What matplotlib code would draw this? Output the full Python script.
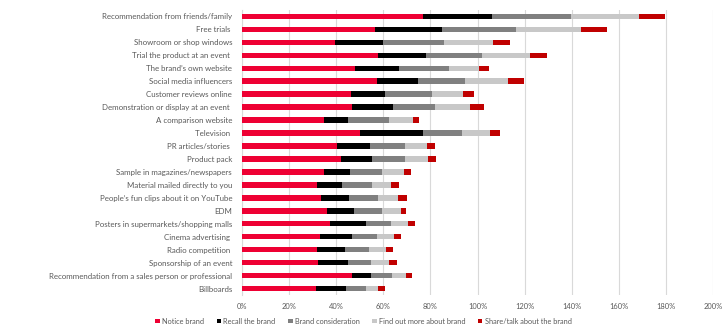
import matplotlib
matplotlib.use("Agg")
import matplotlib.pyplot as plt
from matplotlib.ticker import PercentFormatter
from matplotlib.patches import Patch

categories = [
    "Recommendation from friends/family",
    "Free trials ",
    "Showroom or shop windows",
    "Trial the product at an event ",
    "The brand\u2019s own website",
    "Social media influencers",
    "Customer reviews online",
    "Demonstration or display at an event ",
    "A comparison website",
    "Television ",
    "PR articles/stories ",
    "Product pack",
    "Sample in magazines/newspapers",
    "Material mailed directly to you",
    "People\u2019s fun clips about it on YouTube",
    "EDM",
    "Posters in supermarkets/shopping malls",
    "Cinema advertising ",
    "Radio competition ",
    "Sponsorship of an event",
    "Recommendation from a sales person or professional",
    "Billboards",
]

notice = [77.0, 56.5, 39.7, 57.7, 48.2, 57.5, 46.4, 46.8, 34.8, 50.0, 40.6,
          42.3, 35.1, 31.9, 33.6, 36.2, 37.6, 33.2, 31.9, 32.5, 46.8, 31.4]
recall = [29.3, 28.3, 20.4, 20.3, 18.5, 17.3, 14.3, 17.4, 10.3, 27.0, 13.6,
          13.0, 11.0, 10.5, 11.9, 11.4, 15.0, 13.6, 11.9, 12.7, 8.0, 12.7]
consideration = [33.4, 31.5, 25.6, 23.9, 21.1, 20.0, 20.1, 17.7, 17.4, 16.5, 15.1,
                 14.0, 13.5, 13.0, 12.3, 12.0, 10.6, 10.6, 10.1, 9.6, 8.8, 8.5]
find_out = [28.8, 27.4, 21.0, 20.5, 13.0, 18.2, 13.1, 15.1, 10.2, 11.9, 9.3,
            9.9, 9.2, 8.1, 8.5, 8.0, 7.3, 7.2, 7.3, 7.8, 6.2, 5.2]
share = [11.2, 11.0, 7.2, 6.9, 4.2, 6.8, 4.7, 5.8, 2.4, 4.1, 3.3,
         3.3, 2.8, 3.0, 3.8, 2.2, 3.0, 3.1, 3.1, 3.4, 2.3, 3.0]

series_names = ["Notice brand", "Recall the brand", "Brand consideration",
                "Find out more about brand", "Share/talk about the brand"]
series = [notice, recall, consideration, find_out, share]
colors = ["#EE0033", "#000000", "#808080", "#C8C8C8", "#C00000"]

plt.rcParams['font.family'] = ['Lato', 'DejaVu Sans']
text_color = "#595959"

fig = plt.figure(figsize=(7.27, 3.33), dpi=100)
ax = fig.add_axes([0.3325, 0.1141, 0.6487, 0.856])

y = list(range(len(categories)))
left = [0.0] * len(categories)
for name, vals, c in zip(series_names, series, colors):
    ax.barh(y, vals, left=left, height=0.42, color=c, label=name, zorder=3)
    left = [l + v for l, v in zip(left, vals)]

ax.set_yticks(y)
ax.set_yticklabels(categories, fontsize=5.7, color=text_color)
ax.set_ylim(len(categories) - 0.5, -0.5)
ax.set_xlim(0, 200)
ax.set_xticks(range(0, 201, 20))
ax.xaxis.set_major_formatter(PercentFormatter(decimals=0))
ax.tick_params(axis='x', labelsize=5.4, colors=text_color, length=0, pad=6)
ax.tick_params(axis='y', length=0, pad=7)
ax.grid(axis='x', color="#D9D9D9", linewidth=0.8, zorder=0)
for s in ["top", "right", "bottom"]:
    ax.spines[s].set_visible(False)
ax.spines["left"].set_color("#D9D9D9")
ax.spines["left"].set_linewidth(0.8)

handles = [Patch(facecolor=c, edgecolor='none') for c in colors]
fig.legend(handles, series_names, loc='center', bbox_to_anchor=(0.5, 1 - 321 / 333),
           ncol=5, frameon=False, fontsize=5.3, handlelength=0.6, handleheight=0.6,
           handletextpad=0.3, columnspacing=1.7, labelcolor=text_color)

fig.savefig("out.png", dpi=100)
